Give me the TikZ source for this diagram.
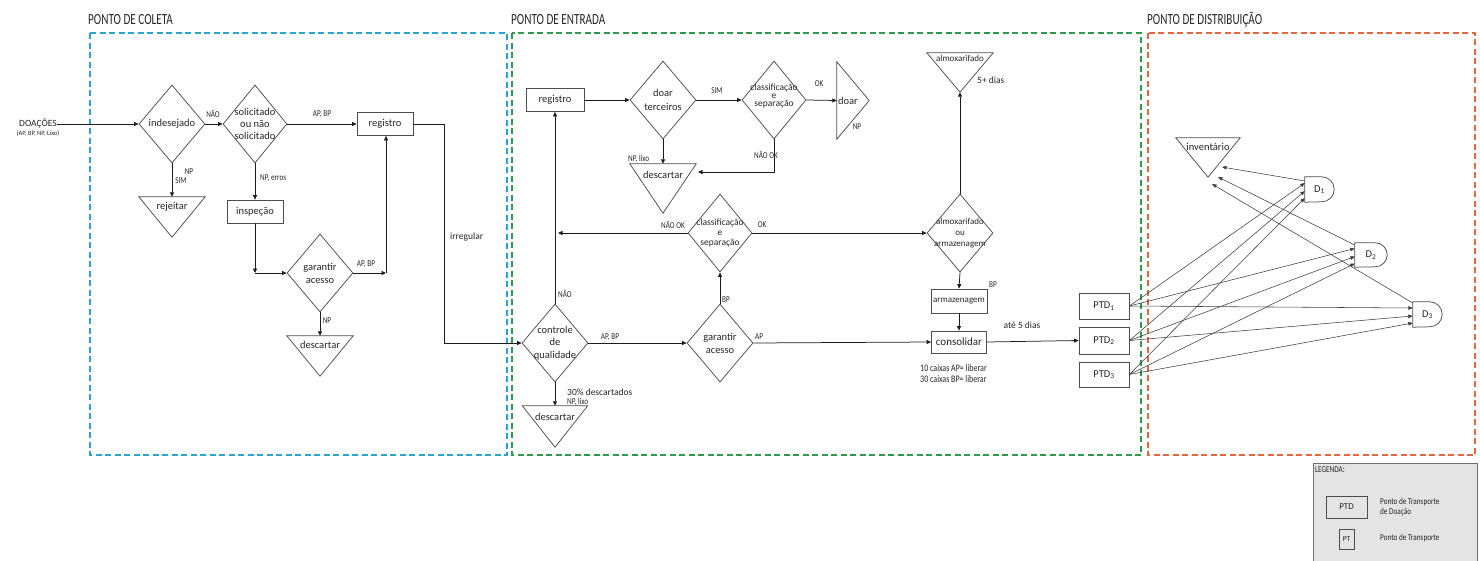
\documentclass[tikz,border=0pt]{standalone}
\usepackage{fontspec}
\setmainfont{Carlito}
\newfontfamily\nf[FakeStretch=0.8]{Carlito}
\newfontfamily\hf[FakeStretch=0.72]{Carlito}
\usetikzlibrary{shapes.geometric,arrows.meta,calc}
\definecolor{cblue}{HTML}{2BA3CF}
\definecolor{cgreen}{HTML}{2F9A4C}
\definecolor{cred}{HTML}{E3673F}
\definecolor{ln}{HTML}{1C1C1C}
\definecolor{bd}{HTML}{4D4D4D}
\definecolor{lgray}{HTML}{E4E4E4}
\definecolor{txt}{HTML}{262626}
\tikzset{
  conn/.style={draw=ln, line width=0.75pt, -{Triangle[length=4.5pt,width=4pt]}},
  thinconn/.style={draw=ln!85, line width=0.55pt, -{Triangle[length=4.5pt,width=3.6pt]}},
  shp/.style={draw=bd, line width=0.75pt},
  dia/.style={shape=diamond, shp, minimum width=66pt, minimum height=78pt, inner sep=0pt},
  box/.style={shape=rectangle, shp, inner sep=0pt, minimum width=56pt, minimum height=23pt, font=\fontsize{10.5}{12}\selectfont, text=txt},
  hold/.style={shape=rectangle, inner sep=0pt},
  dt/.style={align=center, inner sep=0pt, text=txt, font=\fontsize{10.5}{12}\selectfont},
  tt/.style={dt, anchor=center},
  lbl/.style={inner sep=0pt, text=txt, font=\nf\fontsize{9}{10}\selectfont},
  ann/.style={inner sep=0pt, text=txt, font=\fontsize{9.5}{11}\selectfont},
  hdr/.style={inner sep=0pt, anchor=west, text=black!85, font=\hf\fontsize{15.5}{16}\selectfont},
  zone/.style={line width=1.3pt, dash pattern=on 6pt off 3.5pt},
}
\begin{document}
\begin{tikzpicture}[x=1pt,y=1pt]
\useasboundingbox (0,0) rectangle (1480,-560);

% ---------- zones and headers
\node[hdr] (h1) at (88,-20) {PONTO DE COLETA};
\node[hdr] (h2) at (511,-20) {PONTO DE ENTRADA};
\node[hdr] (h3) at (1147,-20) {PONTO DE DISTRIBUIÇÃO};
\draw[zone, draw=cblue] (90,-33) rectangle (507,-455);
\draw[zone, draw=cgreen] (512,-33) rectangle (1141,-455);
\draw[zone, draw=cred] (1148,-33) rectangle (1475,-455);

% ---------- PONTO DE COLETA
\node[ann] (doa) at (38,-124) {DOAÇÕES};
\node[inner sep=0pt, text=txt, font=\fontsize{6.5}{7}\selectfont] (doasub) at (38,-134) {(AP, BP, NP, Lixo)};
\node[dia, label={[dt]center:indesejado}] (ind) at (172,-124) {};
\node[hold, minimum width=66pt, minimum height=40pt, label={[tt,yshift=-10pt]north:rejeitar}] (rej) at (172,-217) {};
\node[dia, minimum width=64pt, label={[dt]center:{solicitado\\ou não\\solicitado}}] (sol) at (255,-124) {};
\node[box] (reg1) at (385,-124) {registro};
\node[box] (insp) at (255,-211.5) {inspeção};
\node[dia, label={[dt,font=\fontsize{10.5}{13}\selectfont]center:{garantir\\acesso}}] (gar1) at (320,-273) {};
\node[hold, minimum width=66pt, minimum height=40pt, label={[tt,yshift=-9pt]north:descartar}] (desc1) at (320,-356) {};
\coordinate (c1) at (255,-273);
\coordinate (c2) at (386,-273);
\coordinate (c3) at (444,-124);
\coordinate (c4) at (444,-343);

% ---------- PONTO DE ENTRADA
\node[dia, label={[dt,font=\fontsize{10.5}{12.5}\selectfont]center:{controle\\de\\qualidade}}] (cq) at (555,-343) {};
\node[box, minimum width=58pt] (reg2) at (555,-100) {registro};
\node[dia, label={[dt,font=\fontsize{10.5}{14}\selectfont]center:{doar\\terceiros}}] (doart) at (663,-100) {};
\node[dia, minimum width=64pt, label={[dt,font=\fontsize{9.5}{8}\selectfont,yshift=4pt]center:{classificação\\e\\separação}}] (cls1) at (774,-100) {};
\node[hold, minimum width=32pt, minimum height=77pt, label={[tt,xshift=-5pt]center:doar}] (doar) at (853,-100.5) {};
\node[hold, minimum width=66pt, minimum height=49pt, label={[tt,yshift=-11pt]north:descartar}] (desc2) at (663,-188.5) {};
\node[dia, minimum width=64pt, label={[dt,font=\fontsize{9.5}{10}\selectfont]center:{classificação\\e\\separação}}] (cls2) at (720,-233) {};
\node[dia, label={[dt,font=\fontsize{9}{11}\selectfont]center:{almoxarifado\\ou\\armazenagem}}] (alm) at (960,-233) {};
\node[hold, minimum width=66pt, minimum height=39pt, label={[tt,font=\fontsize{9}{10}\selectfont,yshift=-6pt]north:almoxarifado}] (almtri) at (960,-72.5) {};
\node[box, minimum height=24pt, font=\fontsize{9}{10}\selectfont] (arm) at (959,-301) {armazenagem};
\node[box, minimum width=55pt, minimum height=22pt, font=\fontsize{11}{12}\selectfont] (cons) at (959,-342) {consolidar};
\node[dia, label={[dt,font=\fontsize{10.5}{13}\selectfont]center:{garantir\\acesso}}] (gar2) at (720,-343) {};
\node[hold, minimum width=65pt, minimum height=41pt, label={[tt,yshift=-11pt]north:descartar}] (desc3) at (555,-426.5) {};
\node[box, minimum width=50pt, minimum height=26pt] (ptd1) at (1104,-306) {PTD\textsubscript{1}};
\node[box, minimum width=50pt, minimum height=27pt] (ptd2) at (1104,-340.5) {PTD\textsubscript{2}};
\node[box, minimum width=50pt, minimum height=25pt] (ptd3) at (1104,-374.5) {PTD\textsubscript{3}};
\coordinate (c5) at (698,-172);
\coordinate (c6) at (558,-233);

% ---------- PONTO DE DISTRIBUICAO
\node[hold, minimum width=64pt, minimum height=39pt, label={[tt,yshift=-9pt]north:inventário}] (inv) at (1208,-157.5) {};
\node[hold, minimum width=29pt, minimum height=25pt, label={[tt]center:{D\textsubscript{1}}}] (d1) at (1319.5,-189.5) {};
\node[hold, minimum width=32pt, minimum height=24pt, label={[tt]center:{D\textsubscript{2}}}] (d2) at (1371,-255) {};
\node[hold, minimum width=29pt, minimum height=25pt, label={[tt]center:{D\textsubscript{3}}}] (d3) at (1427.5,-314.5) {};
\coordinate (i1) at (1222,-167);
\coordinate (i2) at (1218,-177);
\coordinate (i3) at (1212,-184);

% ---------- shapes drawn from node anchors
\foreach \n in {rej,desc1,desc2,almtri,desc3,inv}
  \draw[shp] (\n.north west) -- (\n.north east) -- (\n.south) -- cycle;
\draw[shp] (doar.north west) -- (doar.east) -- (doar.south west) -- cycle;
\foreach \n/\r in {d1/12.5,d2/12,d3/12.5}
  \draw[shp] (\n.south west) -- (\n.north west) -- ($(\n.north east)+(-\r,0)$) arc[start angle=90,end angle=-90,radius=\r] -- cycle;

% ---------- connectors: coleta
\draw[conn] (doa.east) -- (ind.west);
\draw[conn] (ind.east) -- (sol.west);
\draw[conn] (ind.south) -- (rej.north);
\draw[conn] (sol.east) -- (reg1.west);
\draw[conn] (sol.south) -- (insp.north);
\draw[conn] (insp.south) -- (c1);
\draw[conn] (c1) -- (gar1.west);
\draw[conn] (gar1.east) -- (c2);
\draw[conn] (c2) -- (c2 |- reg1.south);
\draw[conn] (gar1.south) -- (desc1.north);
\draw[conn] (reg1.east) -- (c3) -- (c4) -- (cq.west);

% ---------- connectors: entrada
\draw[conn] (cq.north) -- (reg2.south);
\draw[conn] (reg2.east) -- (doart.west);
\draw[conn] (doart.east) -- (cls1.west);
\draw[conn] (cls1.east) -- (doar.west);
\draw[conn] (doart.south) -- (desc2.north);
\draw[conn] (cls1.south) |- (c5);
\draw[conn] (cls2.west) -- (c6);
\draw[conn] (cls2.east) -- (alm.west);
\draw[conn] (alm.north) -- (almtri.south);
\draw[conn] (alm.south) -- (arm.north);
\draw[conn] (arm.south) -- (cons.north);
\draw[conn] (cq.east) -- (gar2.west);
\draw[conn] (gar2.north) -- (cls2.south);
\draw[conn] (gar2.east) -- (cons.west);
\draw[conn] (cq.south) -- (desc3.north);
\draw[conn] (cons.east) -- (ptd2.west);

% ---------- connectors: distribuicao
\foreach \p/\o in {ptd1/6.5, ptd2/-1.5, ptd3/-8.5}
  \foreach \d in {d1,d2,d3}
    \draw[thinconn] (\p.east) -- ($(\d.west)+(0,\o)$);
\draw[thinconn] ($(d1.west)+(0,8.5)$) -- (i1);
\draw[thinconn] ($(d2.west)+(0,10)$) -- (i2);
\draw[thinconn] ($(d3.west)+(0,11.5)$) -- (i3);

% ---------- connector labels
\node[lbl] (l1) at (213,-114) {NÃO};
\node[lbl] (l2) at (189,-172) {NP};
\node[lbl] (l3) at (181,-181) {SIM};
\node[lbl] (l4) at (322,-114) {AP, BP};
\node[lbl, anchor=west] (l5) at (260,-178) {NP, erros};
\node[lbl] (l6) at (366,-264) {AP, BP};
\node[lbl] (l7) at (327,-321) {NP};
\node[ann, anchor=west] (l8) at (450,-237) {irregular};
\node[lbl] (l9) at (717,-91) {SIM};
\node[lbl] (l10) at (819,-84) {OK};
\node[lbl] (l11) at (857,-127) {NP};
\node[lbl, anchor=west] (l12) at (628,-159) {NP, lixo};
\node[lbl] (l13) at (766,-155) {NÃO OK};
\node[lbl] (l14) at (673,-225) {NÃO OK};
\node[lbl] (l15) at (762,-225) {OK};
\node[lbl, anchor=west] (l16) at (558,-294) {NÃO};
\node[lbl] (l17) at (610,-337) {AP, BP};
\node[lbl, anchor=west] (l18) at (722,-300) {BP};
\node[lbl, anchor=west] (l19) at (755,-337) {AP};
\node[ann, anchor=west] (l20) at (567,-392) {30\% descartados};
\node[lbl, anchor=west] (l21) at (567,-402) {NP, lixo};
\node[ann, anchor=west] (l22) at (977,-80) {5+ dias};
\node[lbl] (l23) at (993,-285) {BP};
\node[ann, anchor=west, font=\nf\fontsize{10}{11}\selectfont] (l24) at (920,-368) {10 caixas AP= liberar};
\node[ann, anchor=west, font=\nf\fontsize{10}{11}\selectfont] (l25) at (920,-379) {30 caixas BP= liberar};
\node[ann] (l26) at (1022,-325) {até 5 dias};

% ---------- legend
\node[draw=bd!80, fill=lgray, line width=0.6pt, minimum width=164pt, minimum height=100pt, anchor=north west, inner sep=0pt] (leg) at (1313,-463) {};
\node[lbl, anchor=west] (legt) at (1315,-470) {LEGENDA:};
\node[box, minimum width=41pt, minimum height=22pt, font=\fontsize{9}{10}\selectfont] (legptd) at (1346.5,-507) {PTD};
\node[lbl, anchor=west, align=left, font=\nf\fontsize{9}{10.5}\selectfont] (legptdt) at (1380,-507) {Ponto de Transporte\\de Doação};
\node[box, minimum width=15pt, minimum height=20pt, font=\fontsize{7.5}{8}\selectfont] (legpt) at (1346.5,-539) {PT};
\node[lbl, anchor=west, font=\nf\fontsize{9}{11}\selectfont] (legptt) at (1380,-538) {Ponto de Transporte};
\end{tikzpicture}
\end{document}
